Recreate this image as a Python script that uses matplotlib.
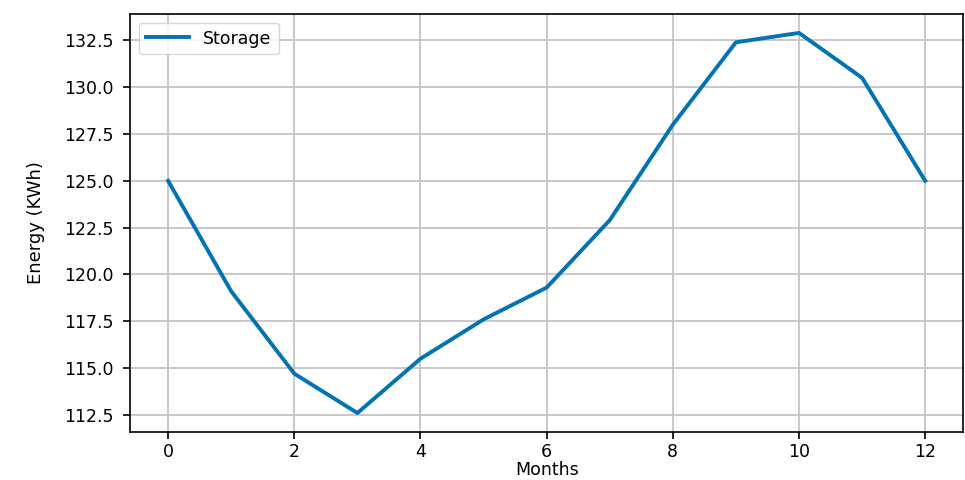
import numpy as np
import matplotlib
matplotlib.use('Agg')
from matplotlib import pyplot as plt

months = [0, 1, 2, 3, 4, 5, 6, 7, 8, 9, 10, 11, 12]
storage = [125.0, 119.1, 114.7, 112.6, 115.5, 117.6, 119.3, 122.9, 128.0, 132.4, 132.9, 130.5, 125.0]

plt.rcParams['font.family'] = ['DejaVu Sans']

fig = plt.figure(figsize=(9.65, 4.8), dpi=100)
ax = fig.add_axes([0.135, 0.1, 0.863, 0.871])

ax.plot(months, storage, color='#0173b2', linewidth=2.8, label='Storage')

ax.set_xticks([0, 2, 4, 6, 8, 10, 12])
ax.set_yticks(np.arange(112.5, 133, 2.5))
ax.tick_params(labelsize=12.5, width=1.2, length=5)
ax.tick_params(axis='x', pad=3)
ax.tick_params(axis='y', pad=7)
for s in ax.spines.values():
    s.set_linewidth(1.2)
ax.grid(True, color='#c4c4c4', linewidth=1.3)
ax.set_xlabel('Months', fontsize=12.5, labelpad=0)
ax.set_ylabel('Energy (KWh)', fontsize=13, labelpad=14,
              family=['Liberation Sans Narrow', 'DejaVu Sans'])
ax.legend(loc='upper left', fontsize=12.5, handlelength=2.5)

fig.savefig('out.png', dpi=100)
